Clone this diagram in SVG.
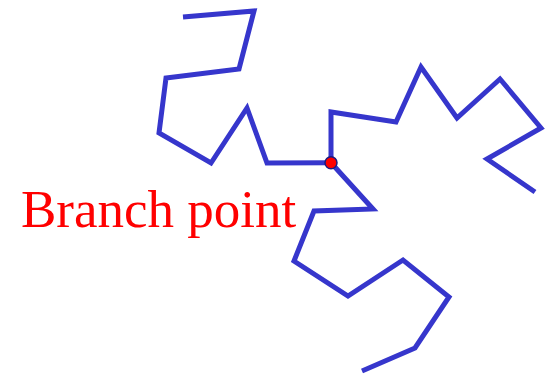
<svg xmlns="http://www.w3.org/2000/svg" width="556" height="377" viewBox="0 0 556 377">
<style>
.chain{fill:none;stroke:#3636CC;stroke-width:5;stroke-linejoin:miter;stroke-linecap:butt}
.lbl{font-family:"Liberation Serif",serif;font-size:53px;fill:#FF0000}
</style>
<rect width="556" height="377" fill="#fff"/>
<g id="connectors">
<polyline class="chain" points="183,17 254,11 239,69 166,78 159,133 211,163 247,108 267,163 331,162.7"/>
<polyline class="chain" points="331,162.7 331,112 396,122 421,67 457,118 500,79 541,128 487,159 535,192"/>
<polyline class="chain" points="331,162.7 373,209 314,211 294,261 348,296 403,260 449,297 415,348 362,371"/>
</g>
<g id="branch-point">
<circle cx="331" cy="162.7" r="6" fill="#FF0000" stroke="#1a1a80" stroke-width="1.5"/>
</g>
<g id="label">
<text class="lbl" x="21" y="227">Branch point</text>
</g>
</svg>
